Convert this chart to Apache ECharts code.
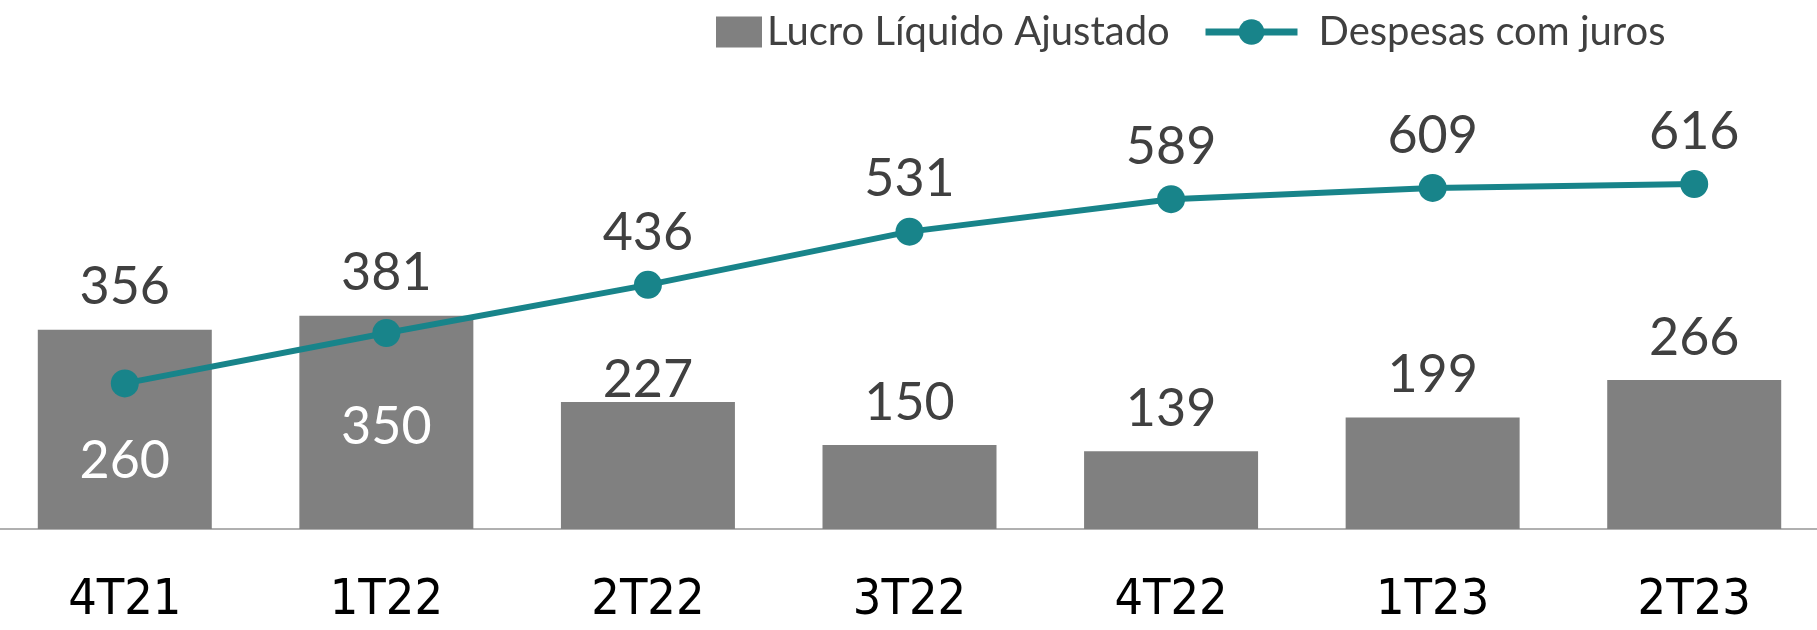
<!DOCTYPE html>
<html>
<head>
<meta charset="utf-8">
<script src="https://cdn.jsdelivr.net/npm/echarts@6/dist/echarts.min.js"></script>
<style>
  html, body { margin: 0; padding: 0; background: #fff; overflow: hidden; }
  /* the plot runs a few pixels past both edges of the picture */
  #chart { position: absolute; left: -6px; top: 0; width: 1831px; height: 630px; }
</style>
</head>
<body>
<div id="chart"></div>
<script>
// Quarters and values
const quarters = ["4T21", "1T22", "2T22", "3T22", "4T22", "1T23", "2T23"];
const lucroAjustado = [356, 381, 227, 150, 139, 199, 266];
const despesasJuros = [260, 350, 436, 531, 589, 609, 616];

const BAR_COLOR = "#808080";
const LINE_COLOR = "#18848a";
const LABEL_FONT = "Lato, 'Noto Sans', sans-serif";

// A few labels were nudged by hand in the original
const barLabelOverrides = { 2: { distance: -4 } };
const lineLabelOverrides = {
  0: { position: "bottom", distance: 38, color: "#ffffff" },
  1: { position: "bottom", distance: 54, color: "#ffffff" }
};

const chart = echarts.init(document.getElementById("chart"));

chart.setOption({
  animation: false,
  legend: [
    {
      data: [{ name: "Lucro Líquido Ajustado", icon: "rect" }],
      left: 717,
      top: 7,
      itemWidth: 46,
      itemHeight: 31,
      textStyle: { fontFamily: LABEL_FONT, fontSize: 40, color: "#404040" }
    },
    {
      data: ["Despesas com juros"],
      left: 1203,
      top: 7,
      itemWidth: 92,
      itemHeight: 32,
      lineStyle: { width: 7 },
      textStyle: { fontFamily: LABEL_FONT, fontSize: 40, color: "#404040", padding: [0, 0, 0, 16] }
    }
  ],
  grid: { left: 0, right: 0, top: 81, height: 448, containLabel: false },
  xAxis: {
    type: "category",
    data: quarters,
    axisLine: { show: true, lineStyle: { color: "#b0b0b0", width: 2 } },
    axisTick: { show: false },
    axisLabel: {
      margin: 47,
      fontSize: 50,
      color: "#000",
      fontFamily: "'Liberation Sans Narrow', 'DejaVu Sans Condensed', sans-serif"
    }
  },
  yAxis: {
    type: "value",
    min: 0,
    max: 800,
    show: false,
    splitLine: { show: false }
  },
  series: [
    {
      name: "Lucro Líquido Ajustado",
      type: "bar",
      barWidth: 174,
      itemStyle: { color: BAR_COLOR },
      label: {
        show: true,
        position: "top",
        distance: 16,
        fontSize: 52,
        fontFamily: LABEL_FONT,
        color: "#404040"
      },
      data: lucroAjustado.map((v, i) => ({ value: v, label: barLabelOverrides[i] || {} }))
    },
    {
      name: "Despesas com juros",
      type: "line",
      z: 5,
      symbol: "circle",
      symbolSize: 28,
      lineStyle: { color: LINE_COLOR, width: 6 },
      itemStyle: { color: LINE_COLOR },
      label: {
        show: true,
        position: "top",
        distance: 12,
        fontSize: 52,
        fontFamily: LABEL_FONT,
        color: "#404040"
      },
      data: despesasJuros.map((v, i) => ({ value: v, label: lineLabelOverrides[i] || {} }))
    }
  ]
});
</script>
</body>
</html>
